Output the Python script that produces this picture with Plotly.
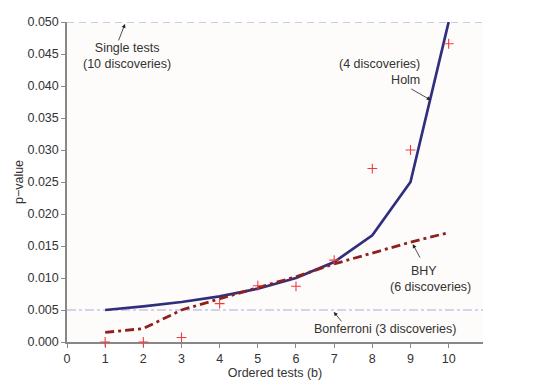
import plotly.graph_objects as go

tests = [1, 2, 3, 4, 5, 6, 7, 8, 9, 10]
p_values = [0.0000, 0.0000, 0.0007, 0.0060, 0.0088, 0.0087, 0.0128, 0.0271, 0.0300, 0.0466]
holm = [0.00500, 0.00556, 0.00625, 0.00714, 0.00833, 0.01000, 0.01250, 0.01667, 0.02500, 0.05000]
bhy = [0.0015, 0.0021, 0.0050, 0.0068, 0.0085, 0.0102, 0.0122, 0.0139, 0.0156, 0.0171]
single_level = 0.05
bonf_level = 0.005
x_range = [0, 10.9]
x_ticks = [0, 1, 2, 3, 4, 5, 6, 7, 8, 9, 10]
y_ticks = [0.000, 0.005, 0.010, 0.015, 0.020, 0.025, 0.030, 0.035, 0.040, 0.045, 0.050]

FONT = "Liberation Sans, Arial, sans-serif"
FS = 12.5

fig = go.Figure()
fig.add_trace(go.Scatter(x=x_range, y=[single_level, single_level], mode="lines",
                         line=dict(color="#9a9ad8", width=1.2, dash="7px,5px"), hoverinfo="skip"))
fig.add_trace(go.Scatter(x=x_range, y=[bonf_level, bonf_level], mode="lines",
                         line=dict(color="#a9a9dd", width=1.2, dash="dashdot"), hoverinfo="skip"))
fig.add_trace(go.Scatter(x=tests, y=holm, mode="lines",
                         line=dict(color="#2f2f7d", width=2.7)))
fig.add_trace(go.Scatter(x=tests, y=bhy, mode="lines",
                         line=dict(color="#8e2020", width=2.8, dash="9px,4px,3px,4px")))
fig.add_trace(go.Scatter(x=tests, y=p_values, mode="markers",
                         marker=dict(symbol="cross-thin", size=7, color="#f03c3c",
                                     line=dict(color="#f03c3c", width=1.1)),
                         cliponaxis=False))

ann_font = dict(family=FONT, size=FS, color="#333333")
arrow = dict(showarrow=True, arrowhead=2, arrowsize=1, arrowwidth=0.8, arrowcolor="#222222",
             axref="pixel", ayref="pixel")
annotations = [
    dict(x=1.52, y=0.0497, ax=-7, ay=18, text="", **arrow),
    dict(x=1.57, y=0.0447, text="Single tests<br>(10 discoveries)", showarrow=False, font=ann_font),
    dict(x=9.53, y=0.0378, ax=-21, ay=-12, text="", **arrow),
    dict(x=9.31, y=0.0422, text="(4 discoveries)<br>Holm", showarrow=False, align="right",
         xanchor="right", font=ann_font),
    dict(x=9.06, y=0.0153, ax=8, ay=15, text="", **arrow),
    dict(x=9.35, y=0.0111, text="BHY", showarrow=False, font=ann_font),
    dict(x=9.53, y=0.0086, text="(6 discoveries)", showarrow=False, font=ann_font),
    dict(x=6.99, y=0.0047, ax=9, ay=11, text="", **arrow),
    dict(x=8.32, y=0.00203, text="Bonferroni (3 discoveries)", showarrow=False, font=ann_font),
]

fig.update_layout(
    width=545, height=385,
    margin=dict(l=59, r=70, t=14, b=51),
    paper_bgcolor="white", plot_bgcolor="#fdfcfa",
    showlegend=False,
    font=dict(family=FONT, size=FS, color="#333333"),
    annotations=annotations,
)
fig.update_xaxes(range=x_range, tickvals=x_ticks, ticks="outside", ticklen=4, tickcolor="#888888",
                 showline=True, linecolor="#888888", linewidth=1.5, showgrid=False, zeroline=False,
                 automargin=False, tickfont=dict(size=FS), layer="below traces",
                 title=dict(text="Ordered tests (b)", standoff=2, font=dict(size=FS)))
fig.update_yaxes(range=[0, 0.05], tickvals=y_ticks, tickformat=".3f", ticks="outside", ticklen=4,
                 tickcolor="#888888", showline=True, linecolor="#888888", linewidth=1.5,
                 showgrid=False, zeroline=False, automargin=False, tickfont=dict(size=FS),
                 layer="below traces",
                 title=dict(text="p\u2212value", standoff=1, font=dict(size=FS)))

fig.write_html("out.html")
